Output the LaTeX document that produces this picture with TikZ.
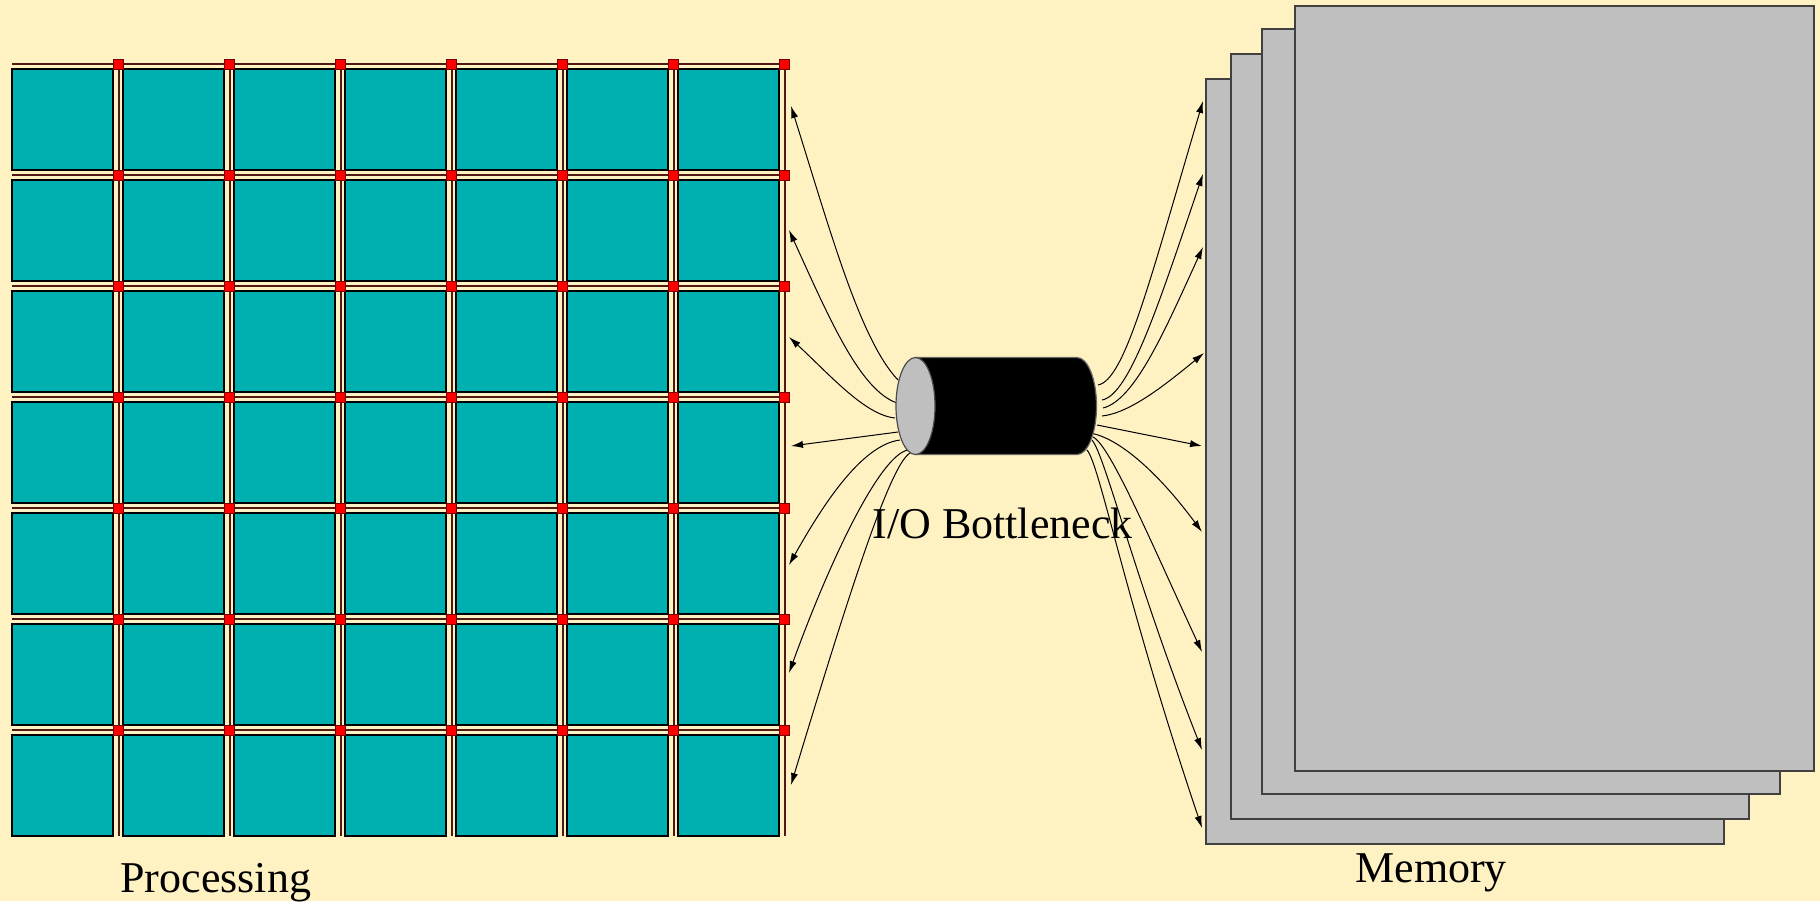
\documentclass[tikz,border=0pt]{standalone}
\usepackage{fontspec}
\setmainfont{Liberation Serif}
\usetikzlibrary{arrows.meta}
\definecolor{bg}{RGB}{255,242,194}
\definecolor{tealcell}{RGB}{0,176,176}
\definecolor{pagegray}{RGB}{191,191,191}
\definecolor{busbrown}{RGB}{80,25,20}
\definecolor{pinred}{RGB}{255,0,0}
\definecolor{pinborder}{RGB}{120,0,0}
\tikzset{
 cellbox/.style={fill=tealcell, draw=black, line width=0.6pt},
 busline/.style={draw=busbrown, line width=1pt},
 pinbox/.style={fill=pinred, draw=pinborder, line width=0.4pt},
 pagebox/.style={fill=pagegray, draw=black!75, line width=0.6pt},
 link/.style={draw=black, line width=0.5pt, -{Latex[length=6pt,width=3.6pt]}},
 lbl/.style={inner sep=0pt, anchor=base west, font=\fontsize{22}{26}\selectfont},
}
\begin{document}
\begin{tikzpicture}[x=0.5pt,y=-0.5pt]
\fill[bg] (0,0) rectangle (1820,901);
\useasboundingbox (0,0) rectangle (1820,901);
% buses
\foreach \i in {0,...,6} {
  \draw[busline] (12,64+111*\i) -- (786,64+111*\i);
  \draw[busline] (119+111*\i,64) -- (119+111*\i,836);
}
% cells
\foreach \i in {0,...,6} \foreach \j in {0,...,6} {
  \draw[cellbox] (12+111*\j,69+111*\i) rectangle ++(101,101);
}
% pins
\foreach \i in {0,...,6} \foreach \j in {0,...,6} {
  \draw[pinbox] (113.5+111*\j,59+111*\i) rectangle ++(10,10);
}
% memory pages (lower-left first, upper-right on top)
\draw[pagebox] (1206,79) rectangle (1724,844);
\draw[pagebox] (1231,54) rectangle (1749,819);
\draw[pagebox] (1262,29) rectangle (1780,794);
\draw[pagebox] (1295,6) rectangle (1814,771);
% connector end points
\coordinate (ls1) at (898,380); \coordinate (lt1) at (791,106);
\coordinate (ls2) at (897,403); \coordinate (lt2) at (789,230);
\coordinate (ls3) at (895,418); \coordinate (lt3) at (789,337);
\coordinate (ls4) at (898,432); \coordinate (lt4) at (791,446);
\coordinate (ls5) at (900,440); \coordinate (lt5) at (789,565);
\coordinate (ls6) at (908,450); \coordinate (lt6) at (789,673);
\coordinate (ls7) at (910,453); \coordinate (lt7) at (791,785);
\coordinate (rs1) at (1098,385); \coordinate (rt1) at (1203,101);
\coordinate (rs2) at (1102,400); \coordinate (rt2) at (1203,174);
\coordinate (rs3) at (1103,408); \coordinate (rt3) at (1203,247);
\coordinate (rs4) at (1102,416); \coordinate (rt4) at (1204,353);
\coordinate (rs5) at (1097,425); \coordinate (rt5) at (1202,446);
\coordinate (rs6) at (1090,433); \coordinate (rt6) at (1202,532);
\coordinate (rs7) at (1093,437); \coordinate (rt7) at (1202,652);
\coordinate (rs8) at (1092,440); \coordinate (rt8) at (1202,750);
\coordinate (rs9) at (1087,450); \coordinate (rt9) at (1202,828);
% left connectors
\draw[link] (ls1) .. controls (860,340) and (830,230) .. (lt1);
\draw[link] (ls2) .. controls (860,390) and (830,320) .. (lt2);
\draw[link] (ls3) .. controls (865,415) and (830,375) .. (lt3);
\draw[link] (ls4) -- (lt4);
\draw[link] (ls5) .. controls (860,445) and (820,510) .. (lt5);
\draw[link] (ls6) .. controls (880,455) and (830,560) .. (lt6);
\draw[link] (ls7) .. controls (890,465) and (850,590) .. (lt7);
% right connectors
\draw[link] (rs1) .. controls (1125,380) and (1150,280) .. (rt1);
\draw[link] (rs2) .. controls (1130,395) and (1160,300) .. (rt2);
\draw[link] (rs3) .. controls (1135,400) and (1165,330) .. (rt3);
\draw[link] (rs4) .. controls (1130,413) and (1165,385) .. (rt4);
\draw[link] (rs5) -- (rt5);
\draw[link] (rs6) .. controls (1120,438) and (1160,475) .. (rt6);
\draw[link] (rs7) .. controls (1110,445) and (1150,540) .. (rt7);
\draw[link] (rs8) .. controls (1105,455) and (1135,580) .. (rt8);
\draw[link] (rs9) .. controls (1100,465) and (1125,600) .. (rt9);
% cylinder
\coordinate (cl) at (915.5,406);
\coordinate (cr) at (1077,406);
\filldraw[fill=black, draw=black!60, line width=0.6pt] (915.5,357.5) -- (1077,357.5) arc[start angle=-90, end angle=90, x radius=19.5, y radius=48.5] -- (915.5,454.5) -- cycle;
\filldraw[fill=pagegray, draw=black!70, line width=0.6pt] (cl) ellipse [x radius=19.5, y radius=48.5];
% labels
\node[lbl] (io) at (872,538) {I/O Bottleneck};
\node[lbl] (proc) at (120,892) {Processing};
\node[lbl] (mem) at (1355,882) {Memory};
\end{tikzpicture}
\end{document}
